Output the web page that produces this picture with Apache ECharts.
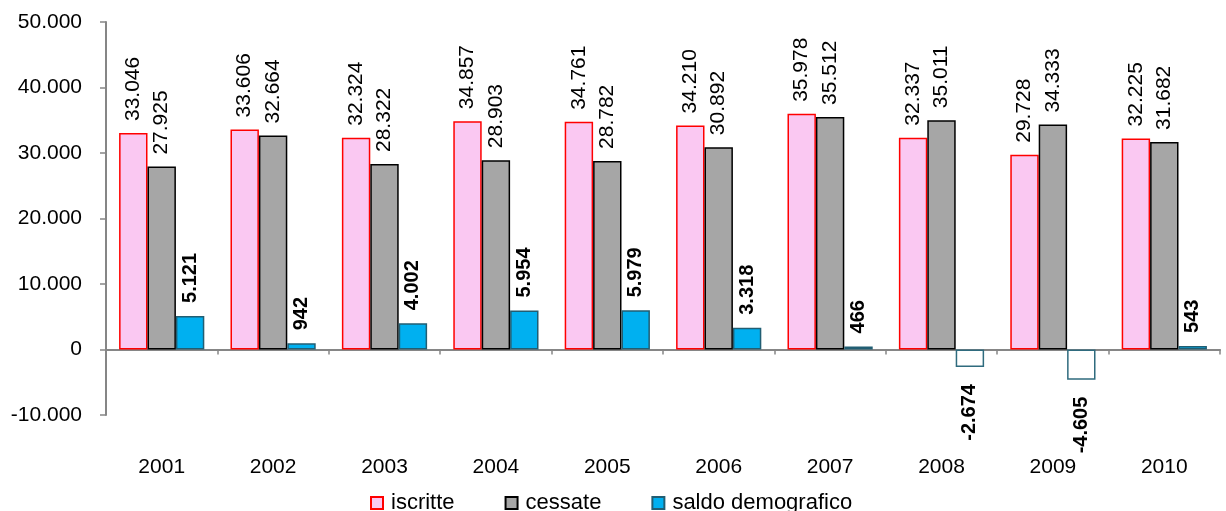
<!DOCTYPE html>
<html><head><meta charset="utf-8">
<script src="https://cdn.jsdelivr.net/npm/echarts@6/dist/echarts.min.js"></script>
<style>html,body{margin:0;padding:0;background:#fff}#c{width:1226px;height:511px}</style>
</head><body><div id="c"></div>
<script>
const categories = ['2001','2002','2003','2004','2005','2006','2007','2008','2009','2010'];
const iscritte = [33046, 33606, 32324, 34857, 34761, 34210, 35978, 32337, 29728, 32225];
const cessate = [27925, 32664, 28322, 28903, 28782, 30892, 35512, 35011, 34333, 31682];
const saldo = [5121, 942, 4002, 5954, 5979, 3318, 466, -2674, -4605, 543];
const seriesNames = ['iscritte', 'cessate', 'saldo demografico'];

const FONT = '"Liberation Sans", Arial, sans-serif';
function fmt(v){
  const s = Math.abs(v).toString().replace(/\B(?=(\d{3})+(?!\d))/g, '.');
  return (v < 0 ? '-' : '') + s;
}
const chart = echarts.init(document.getElementById('c'), null, {renderer:'canvas'});
const rotLabel = {
  show:true, position:'top', rotate:90, align:'left', verticalAlign:'middle',
  distance:12, fontSize:21, fontFamily:FONT, color:'#000',
  formatter: p => fmt(p.value)
};
chart.setOption({
  animation:false,
  textStyle:{fontFamily:FONT},
  grid:{left:106, right:6, top:22, bottom:96, containLabel:false},
  legend:{
    bottom:-8, left:365, icon:'rect', itemWidth:12, itemHeight:12, itemGap:50,
    textStyle:{fontSize:22, fontFamily:FONT, color:'#000', padding:[0,0,0,3]},
    data: seriesNames
  },
  xAxis:[{
    type:'category', data:categories, boundaryGap:true,
    axisLine:{onZero:true, lineStyle:{color:'#868686', width:2}},
    axisTick:{show:true, length:5, lineStyle:{color:'#868686', width:1.5}},
    axisLabel:{show:false}
  },{
    type:'category', data:categories, position:'bottom', boundaryGap:true,
    axisLine:{show:false, onZero:false}, axisTick:{show:false},
    axisLabel:{show:true, margin:42, fontSize:21, fontFamily:FONT, color:'#000'}
  }],
  yAxis:{
    type:'value', min:-10000, max:50000, interval:10000,
    axisLine:{show:true, lineStyle:{color:'#868686', width:2}},
    axisTick:{show:true, length:6, lineStyle:{color:'#868686', width:1.5}},
    splitLine:{show:false},
    axisLabel:{fontSize:21, fontFamily:FONT, color:'#000', margin:24, formatter: v => fmt(v)}
  },
  series:[{
    name:seriesNames[0], type:'bar', data:iscritte, barGap:'0%', barCategoryGap:'23.5%',
    itemStyle:{color:'#FAC8F2', borderColor:'#FF0000', borderWidth:1.5},
    label:rotLabel
  },{
    name:seriesNames[1], type:'bar', data:cessate, barGap:'0%', barCategoryGap:'23.5%',
    itemStyle:{color:'#A6A6A6', borderColor:'#000', borderWidth:1.5},
    label:rotLabel
  },{
    name:seriesNames[2], type:'bar', barGap:'0%', barCategoryGap:'23.5%',
    itemStyle:{color:'#00B0F0', borderColor:'#215E73', borderWidth:1.5},
    data: saldo.map(v => v < 0 ? {
      value:v,
      itemStyle:{color:'#FFFFFF', borderColor:'#2F6B7E', borderWidth:1.5},
      label:{position:'bottom', align:'right', distance:17}
    } : v),
    label:Object.assign({}, rotLabel, {fontWeight:'bold', fontSize:20, distance:13})
  }]
});
</script></body></html>
